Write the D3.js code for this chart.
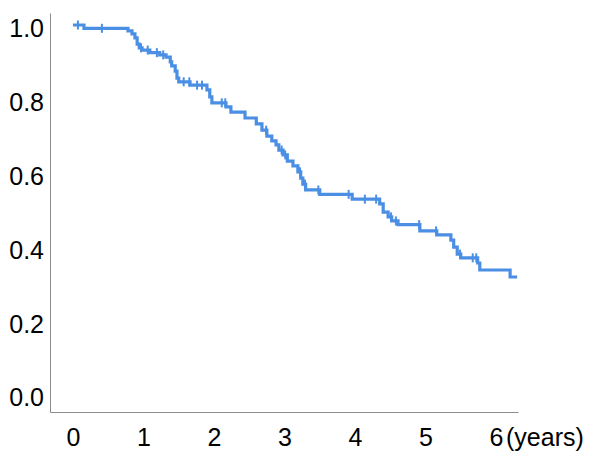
<!DOCTYPE html>
<html>
<head>
<meta charset="utf-8">
<script src="https://cdn.jsdelivr.net/npm/d3@7"></script>
<style>
  body { margin: 0; background: #fff; }
  svg text { font-family: "Liberation Sans", Arial, sans-serif; }
</style>
</head>
<body>
<svg id="km" width="607" height="467"></svg>
<script>
// step points of the survival curve (time in years, survival after the step)
const stepTimes = [0, 0.156, 0.78, 0.837, 0.879, 0.91, 0.94, 0.98, 1.09, 1.23, 1.32, 1.38, 1.40, 1.45, 1.475, 1.50,
    1.66, 1.90, 1.94, 1.97, 2.17, 2.24, 2.44, 2.60, 2.68, 2.75, 2.82, 2.88, 2.92, 2.98, 3.04, 3.12, 3.19, 3.23, 3.26, 3.30,
    3.50, 3.96, 4.35, 4.40, 4.47, 4.52, 4.61, 4.92, 5.16, 5.36, 5.40, 5.45, 5.50, 5.74, 5.77, 6.20];
const stepSurvival = [1.0, 0.991, 0.984, 0.976, 0.965, 0.948, 0.938, 0.932, 0.925, 0.919, 0.913, 0.900, 0.889, 0.875, 0.856, 0.846,
    0.837, 0.824, 0.805, 0.789, 0.778, 0.764, 0.748, 0.732, 0.715, 0.699, 0.686, 0.675, 0.661, 0.648, 0.631, 0.618, 0.602, 0.585, 0.569, 0.553,
    0.541, 0.528, 0.515, 0.493, 0.480, 0.469, 0.459, 0.442, 0.431, 0.417, 0.398, 0.379, 0.369, 0.355, 0.336, 0.317];
const lastTime = 6.30;
// censored observations
const censorTimes = [0.07, 0.41, 0.965, 1.06, 1.19, 1.28, 1.57, 1.65, 1.76, 1.83, 2.11, 2.16, 2.74, 2.96, 3.01, 3.22, 3.29,
    3.48, 3.91, 4.14, 4.30, 4.51, 4.58, 4.91, 5.15, 5.49, 5.67, 5.72];
const yTicks = [0, 0.2, 0.4, 0.6, 0.8, 1.0];
const xTicks = [0, 1, 2, 3, 4, 5, 6];

const svg = d3.select("#km");
const blue = "#4a8fe3";

const x = d3.scaleLinear().domain([-0.326, 6.312]).range([50, 518]);
const y = d3.scaleLinear().domain([-0.0488, 1.0325]).range([412, 13]);

// survival value at time t
function survivalAt(t) {
    let s = stepSurvival[0];
    for (let i = 0; i < stepTimes.length; i++) {
        if (stepTimes[i] <= t) s = stepSurvival[i];
    }
    return s;
}

// axes
const yAxis = svg.append("g")
    .attr("transform", `translate(${x.range()[0]},0)`)
    .call(d3.axisLeft(y).tickValues(yTicks).tickSize(0).tickSizeOuter(0).tickPadding(6)
        .tickFormat(d3.format(".1f")));
yAxis.select(".domain").attr("stroke", "#8c8c8c");
yAxis.selectAll("text").attr("y", 4).style("font-size", "25px").attr("fill", "#000");

const xAxis = svg.append("g")
    .attr("transform", `translate(0,${y.range()[0]})`)
    .call(d3.axisBottom(x).tickValues(xTicks).tickSize(0).tickSizeOuter(0).tickPadding(16)
        .tickFormat(d3.format("d")));
xAxis.select(".domain").attr("stroke", "#8c8c8c");
xAxis.selectAll("text").style("font-size", "25px").attr("fill", "#000");

svg.append("text")
    .attr("x", x(6) + 10)
    .attr("y", 446)
    .style("font-size", "25px")
    .text("(years)");

// curve
const pts = stepTimes.map((t, i) => [t, stepSurvival[i]]);
pts.push([lastTime, stepSurvival[stepSurvival.length - 1]]);
const line = d3.line()
    .x(d => x(d[0]))
    .y(d => y(d[1]))
    .curve(d3.curveStepAfter);

svg.append("path")
    .datum(pts)
    .attr("d", line)
    .attr("fill", "none")
    .attr("stroke", blue)
    .attr("stroke-width", 3.2);

// censor marks
svg.append("g")
    .selectAll("line")
    .data(censorTimes)
    .enter()
    .append("line")
    .attr("x1", d => x(d))
    .attr("x2", d => x(d))
    .attr("y1", d => y(survivalAt(d)) - 4.5)
    .attr("y2", d => y(survivalAt(d)) + 4.5)
    .attr("stroke", blue)
    .attr("stroke-width", 2);
</script>
</body>
</html>
